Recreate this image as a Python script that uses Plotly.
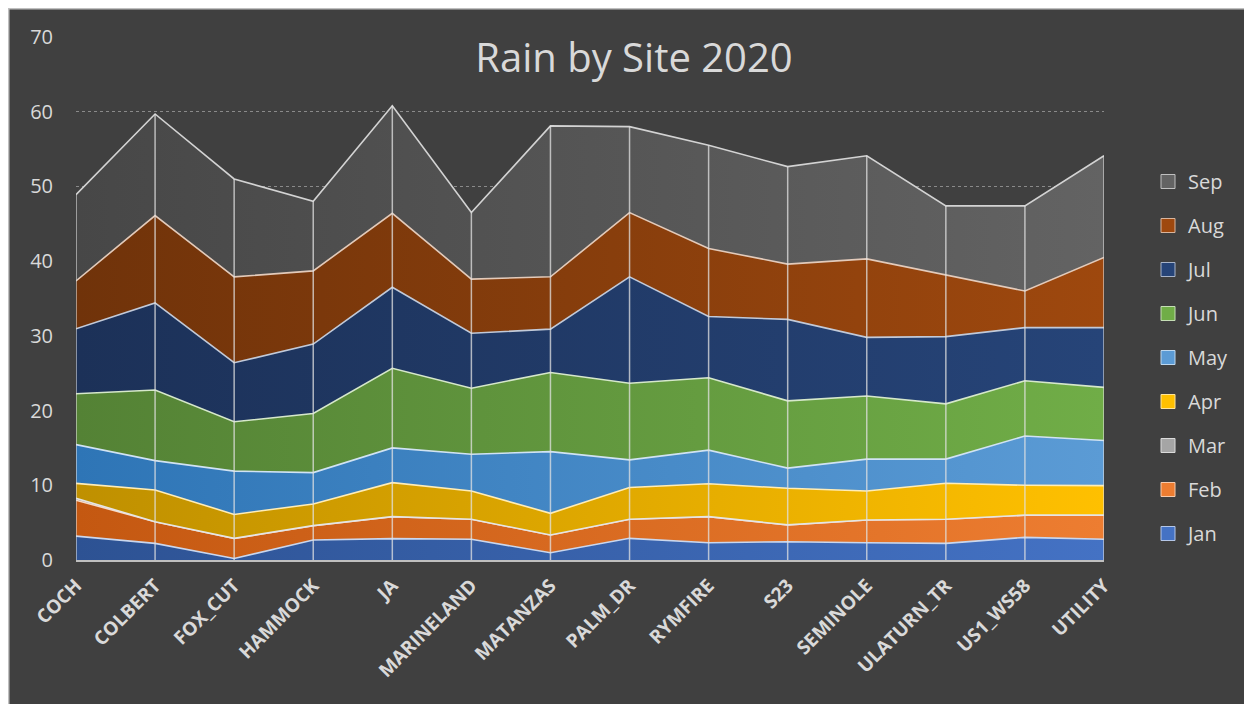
import numpy as np
import plotly.graph_objects as go

sites = ["COCH", "COLBERT", "FOX_CUT", "HAMMOCK", "JA", "MARINELAND", "MATANZAS",
         "PALM_DR", "RYMFIRE", "S23", "SEMINOLE", "ULATURN_TR", "US1_WS58", "UTILITY"]

jan = [3.2, 2.23, 0.2, 2.68, 2.86, 2.77, 0.98, 2.9, 2.3, 2.45, 2.3, 2.23, 3.03, 2.77]
feb = [4.8, 2.9, 2.7, 1.92, 2.94, 2.68, 2.37, 2.55, 3.5, 2.25, 3.05, 3.22, 2.97, 3.23]
mar = [0.25, 0, 0, 0, 0, 0, 0, 0, 0, 0, 0, 0, 0, 0]
apr = [2.0, 4.24, 3.2, 2.9, 4.55, 3.79, 2.9, 4.25, 4.4, 4.9, 3.89, 4.82, 4.0, 3.95]
may = [5.2, 3.93, 5.8, 4.2, 4.65, 4.91, 8.25, 3.7, 4.5, 2.7, 4.26, 3.23, 6.6, 6.05]
jun = [6.8, 9.46, 6.6, 7.9, 10.66, 8.85, 10.6, 10.25, 9.7, 9.0, 8.45, 7.4, 7.4, 7.1]
jul = [8.7, 11.64, 7.9, 9.3, 10.84, 7.35, 5.8, 14.25, 8.2, 10.9, 7.85, 9.0, 7.1, 8.0]
aug = [6.4, 11.7, 11.5, 9.8, 9.9, 7.25, 7.0, 8.6, 9.1, 7.4, 10.5, 8.25, 4.9, 9.4]
sep = [11.55, 13.6, 13.1, 9.3, 14.4, 8.9, 20.2, 11.5, 13.8, 13.05, 13.8, 9.25, 11.4, 13.6]

months = ["Jan", "Feb", "Mar", "Apr", "May", "Jun", "Jul", "Aug", "Sep"]
values = [jan, feb, mar, apr, may, jun, jul, aug, sep]

grad = {
    "Jan": ("#2D5293", "#4472C4"),
    "Feb": ("#C45811", "#ED7D31"),
    "Mar": ("#7F7F7F", "#A5A5A5"),
    "Apr": ("#BF9000", "#FFC000"),
    "May": ("#2E75B6", "#5B9BD5"),
    "Jun": ("#548235", "#70AD47"),
    "Jul": ("#1C3158", "#264478"),
    "Aug": ("#70330A", "#9E480E"),
    "Sep": ("#474747", "#636363"),
}


def tint(hexc, f=0.7):
    h = hexc.lstrip("#")
    r, g, b = (int(h[i:i + 2], 16) for i in (0, 2, 4))
    r, g, b = (int(c + (255 - c) * f) for c in (r, g, b))
    return f"rgb({r},{g},{b})"


x = list(range(len(sites)))
fig = go.Figure()

for m, v in zip(months, values):
    c0, c1 = grad[m]
    fig.add_trace(go.Scatter(
        x=x, y=v, name=m, mode="lines", stackgroup="rain",
        line=dict(color=tint(c1, 0.72), width=1.6),
        fillgradient=dict(type="horizontal", colorscale=[[0, c0], [1, c1]]),
        showlegend=False, hoverinfo="skip",
    ))

# drop lines from baseline to top of stack
totals = np.sum(np.array(values), axis=0)
dx, dy = [], []
for xi, t in zip(x, totals):
    dx += [xi, xi, None]
    dy += [0, t, None]
fig.add_trace(go.Scatter(x=dx, y=dy, mode="lines",
                         line=dict(color="rgba(225,225,225,0.75)", width=1.5),
                         showlegend=False, hoverinfo="skip"))

# legend entries (Sep at top)
for m in reversed(months):
    c0, c1 = grad[m]
    fig.add_trace(go.Scatter(
        x=[None], y=[None], mode="markers", name=m, legendgroup=m,
        marker=dict(symbol="square", size=14, color=c1,
                    line=dict(color=tint(c1, 0.6), width=1)),
    ))

W, H = 1252, 704
L, R, T, B = 68, 156, 29, 152
pw, ph = W - L - R, H - T - B


def px(v):
    return (v - L) / pw


def py(v):
    return (H - B - v) / ph


fig.add_shape(type="rect", xref="paper", yref="paper",
              x0=px(0), x1=px(W), y0=py(H), y1=py(0),
              fillcolor="rgba(0,0,0,0)", line=dict(color="#bfbfbf", width=3), layer="below")

fig.update_layout(
    width=W, height=H,
    margin=dict(l=L, r=R, t=T, b=B),
    paper_bgcolor="#404040",
    plot_bgcolor="#404040",
    font=dict(family="Open Sans", color="#d9d9d9"),
    title=dict(text="Rain by Site 2020", x=0.5, xanchor="center", xref="container",
               y=1 - 50 / H, yanchor="middle",
               font=dict(family="Open Sans", size=40, color="#d9d9d9")),
    xaxis=dict(range=[0, 13], tickmode="array", tickvals=x, ticktext=sites,
               tickangle=-45, showgrid=False, zeroline=False,
               showline=True, linecolor="#bfbfbf", linewidth=2,
               tickfont=dict(family="Open Sans", size=19, color="#d9d9d9", weight="bold"),
               ticks="", ticklabelstandoff=5),
    yaxis=dict(range=[0, 70], dtick=10, showgrid=True, gridcolor="#8a8a8a",
               griddash="dot", gridwidth=1, zeroline=False, showline=False,
               tickfont=dict(family="Open Sans", size=20, color="#d9d9d9"),
               ticklabelstandoff=22),
    legend=dict(x=px(1140), xanchor="left", y=py(154), yanchor="top",
                traceorder="grouped", tracegroupgap=15,
                font=dict(family="Open Sans", size=20, color="#d9d9d9"),
                bgcolor="rgba(0,0,0,0)", itemwidth=30),
    showlegend=True,
)

fig.write_html("out.html")
